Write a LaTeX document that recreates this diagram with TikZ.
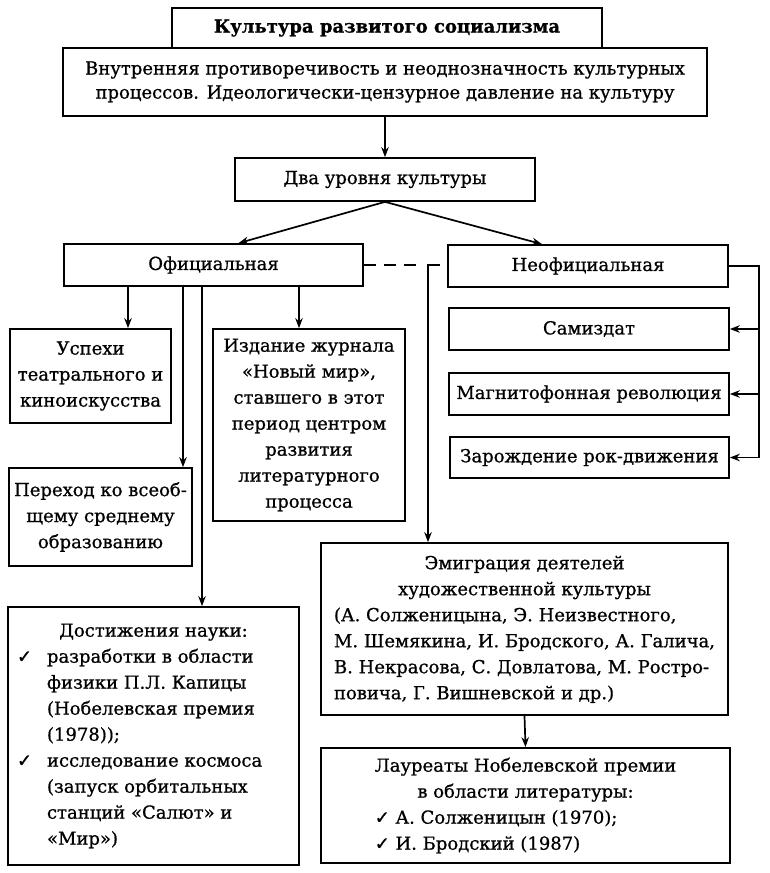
\documentclass[tikz,border=0pt]{standalone}
\usepackage{fontspec}
\setmainfont{DejaVu Serif}[FakeBold=0.8]
\newfontfamily\ckfont{DejaVu Sans}[FakeBold=0.8]
\usetikzlibrary{arrows.meta,calc}
\newcommand\ck{{\ckfont ✓}}
\begin{document}
\begin{tikzpicture}[x=1pt,y=-1pt,
  box/.style={draw, line width=1.7pt, inner sep=0pt, font=\fontsize{18}{26}\selectfont},
  con/.style={line width=1.7pt},
  arr/.style={con, -{Stealth[length=10pt,width=7.5pt]}}]
\useasboundingbox (0,0) rectangle (769,873);
\fill[white] (0,0) rectangle (769,873);

\node[box, minimum width=644pt, minimum height=68pt, align=center, font=\fontsize{18}{24}\selectfont] (desc) at (385,82)
  {Внутренняя противоречивость и неоднозначность культурных\\процессов. Идеологически-цензурное давление на культуру};
\node[box, fill=white, minimum width=430pt, minimum height=40pt, font=\bfseries\fontsize{18}{22}\selectfont] (title) at (387,28)
  {Культура развитого социализма};
\node[box, minimum width=300pt, minimum height=43pt] (dva) at (385,179.5) {Два уровня культуры};
\node[box, minimum width=299pt, minimum height=42pt] (ofic) at (213.5,265) {Официальная};
\node[box, minimum width=280pt, minimum height=42pt] (neof) at (588,266) {Неофициальная};
\node[box, minimum width=280pt, minimum height=42pt] (samiz) at (589,329) {Самиздат};
\node[box, minimum width=280pt, minimum height=42pt] (magn) at (589,394) {Магнитофонная революция};
\node[box, minimum width=279pt, minimum height=41pt] (zar) at (589.5,457.5) {Зарождение рок-движения};
\node[box, minimum width=161pt, minimum height=94pt, align=center] (usp) at (90.5,376)
  {Успехи\\театрального и\\киноискусства};
\node[box, minimum width=183pt, minimum height=98pt, align=center] (per) at (100.5,517)
  {Переход ко всеоб-\\щему среднему\\образованию};
\node[box, minimum width=192pt, minimum height=192pt, align=center] (izd) at (309,425)
  {Издание журнала\\«Новый мир»,\\ставшего в этот\\период центром\\развития\\литературного\\процесса};
\node[box, minimum width=291pt, minimum height=258pt, align=left] (dost) at (153.5,736)
  {\makebox[273pt]{Достижения науки:}\\
   \makebox[30pt][l]{\ck}разработки в области\\
   \hspace*{30pt}физики П.Л. Капицы\\
   \hspace*{30pt}(Нобелевская премия\\
   \hspace*{30pt}(1978));\\
   \makebox[30pt][l]{\ck}исследование космоса\\
   \hspace*{30pt}(запуск орбитальных\\
   \hspace*{30pt}станций «Салют» и\\
   \hspace*{30pt}«Мир»)};
\node[box, minimum width=407pt, minimum height=172pt] (emig) at (524.5,629)
  {\begin{tabular}{@{}l@{}}
   \multicolumn{1}{@{}c@{}}{Эмиграция деятелей}\\
   \multicolumn{1}{@{}c@{}}{художественной культуры}\\
   (А. Солженицына, Э. Неизвестного,\\
   М. Шемякина, И. Бродского, А. Галича,\\
   В. Некрасова, С. Довлатова, М. Ростро-\\
   повича, Г. Вишневской и др.)
   \end{tabular}};
\node[box, minimum width=409pt, minimum height=115pt] (laur) at (525.5,805.5)
  {\begin{tabular}{@{}l@{}}
   \multicolumn{1}{@{}c@{}}{Лауреаты Нобелевской премии}\\
   \multicolumn{1}{@{}c@{}}{в области литературы:}\\
   \ck\ А. Солженицын (1970);\\
   \ck\ И. Бродский (1987)
   \end{tabular}};

\coordinate (xa) at (128,0);
\coordinate (xb) at (183,0);
\coordinate (xc) at (202,0);
\coordinate (xd) at (299,0);
\coordinate (xr) at (759,0);
\coordinate (dashend) at (418,265);
\coordinate (corner) at (428,265);
\coordinate (stub) at (440,265);

\draw[arr] (desc.south) -- (dva.north);
\draw[arr] (dva.south) -- ($(ofic.north)+(25,0)$);
\draw[arr] (dva.south) -- ($(neof.north)+(-46,0)$);
\draw[arr] (ofic.south -| xa) -- (usp.north -| xa);
\draw[arr] (ofic.south -| xb) -- (per.north -| xb);
\draw[arr] (ofic.south -| xc) -- (dost.north -| xc);
\draw[arr] (ofic.south -| xd) -- (izd.north -| xd);
\draw[con, dash pattern=on 12pt off 8pt] (ofic.east) -- (dashend);
\draw[arr] (stub) -- (corner) -- (emig.north -| corner);
\draw[con] (neof.east) -- (neof.east -| xr) -- (zar.east -| xr);
\draw[arr] (samiz.east -| xr) -- (samiz.east);
\draw[arr] (magn.east -| xr) -- (magn.east);
\draw[arr] (zar.east -| xr) -- (zar.east);
\draw[arr] (emig.south) -- (laur.north);
\end{tikzpicture}
\end{document}
